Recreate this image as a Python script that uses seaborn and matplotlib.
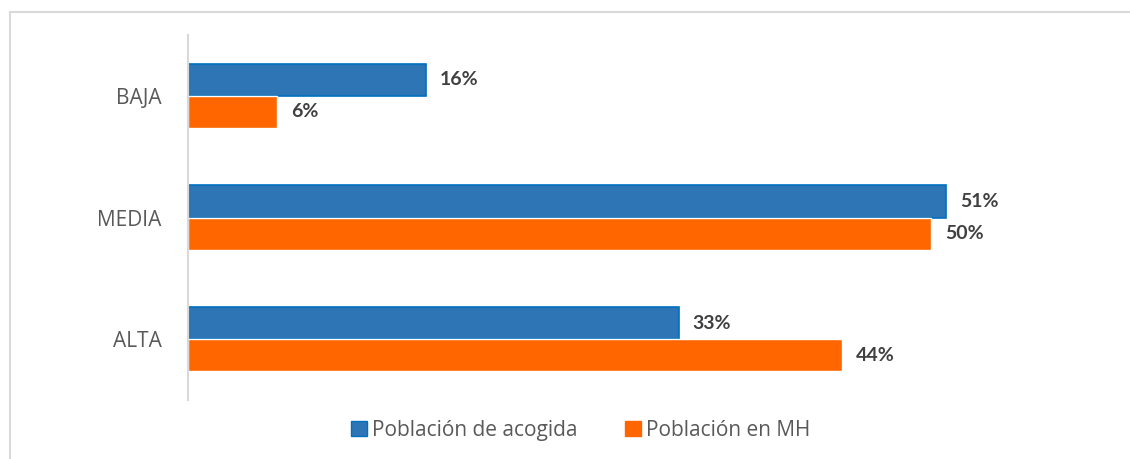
import pandas as pd
import matplotlib.pyplot as plt
import seaborn as sns
from matplotlib.patches import Rectangle, Patch

# Data
niveles = ['BAJA', 'MEDIA', 'ALTA']
series = ['Población de acogida', 'Población en MH']
acogida = [0.16, 0.51, 0.33]
mh = [0.06, 0.50, 0.44]
colores = ['#2E75B6', '#FF6600']

df = pd.DataFrame({
    'nivel': niveles * 2,
    'valor': acogida + mh,
    'serie': [series[0]] * 3 + [series[1]] * 3,
})

sns.set_theme(style='white')
plt.rcParams['font.family'] = ['Open Sans', 'DejaVu Sans']

fig = plt.figure(figsize=(11.3, 4.59), dpi=100)
ax = fig.add_axes([0.1664, 0.1285, 0.7894, 0.7952])

sns.barplot(data=df, x='valor', y='nivel', hue='serie', order=niveles,
            hue_order=series, palette=colores, width=0.53, orient='h',
            saturation=1, ax=ax, legend=False)

# blue bars have a slightly brighter outline
for bar in ax.containers[0]:
    bar.set_edgecolor('#0070C0')
    bar.set_linewidth(1.2)

for cont in ax.containers:
    ax.bar_label(cont, labels=[f'{v.get_width()*100:.0f}%' for v in cont],
                 padding=10, fontsize=14, fontweight='bold', color='#404040',
                 family=['Lato', 'DejaVu Sans'])

ax.set_xlim(0, 0.6)
ax.set_ylim(2.5, -0.5)
ax.set_xlabel('')
ax.set_ylabel('')
ax.set_xticks([])
ax.tick_params(axis='y', length=0, pad=19, labelsize=15, labelcolor='#595959')
for s in ['top', 'right', 'bottom']:
    ax.spines[s].set_visible(False)
ax.spines['left'].set_color('#D9D9D9')
ax.spines['left'].set_linewidth(1.5)

handles = [Patch(facecolor=colores[0], edgecolor='#0070C0'),
           Patch(facecolor=colores[1], edgecolor=colores[1])]
fig.legend(handles, series, loc='center', bbox_to_anchor=(0.514, 0.063),
           ncol=2, frameon=False, fontsize=15, labelcolor='#595959',
           handlelength=0.75, handleheight=0.75, handletextpad=0.25,
           columnspacing=2.3)

# outer chart frame
fig.patches.append(Rectangle((10 / 1130, -0.1), 1.2, 1.1 - 12 / 459,
                             transform=fig.transFigure, fill=False,
                             edgecolor='#D9D9D9', linewidth=1.5))

fig.savefig('out.png', dpi=100)
